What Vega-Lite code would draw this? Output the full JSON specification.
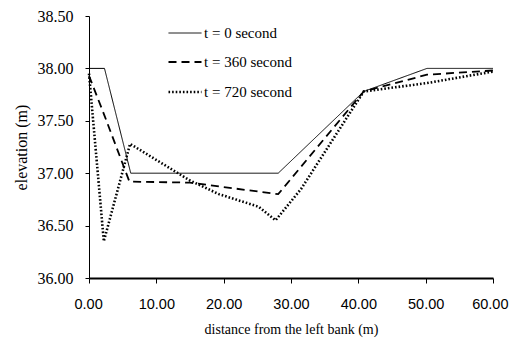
{
  "$schema": "https://vega.github.io/schema/vega-lite/v6.json",
  "width": 404,
  "height": 262,
  "autosize": {"type": "none"},
  "padding": {"left": 89, "top": 16, "right": 17, "bottom": 65},
  "background": "white",
  "config": {"view": {"stroke": null}},
  "data": {"values": [
    {"s": "t = 0 second", "x": 0, "y": 38.0},
    {"s": "t = 0 second", "x": 2.3, "y": 38.0},
    {"s": "t = 0 second", "x": 6.2, "y": 37.0},
    {"s": "t = 0 second", "x": 28.1, "y": 37.0},
    {"s": "t = 0 second", "x": 40.8, "y": 37.78},
    {"s": "t = 0 second", "x": 50.2, "y": 38.0},
    {"s": "t = 0 second", "x": 60, "y": 38.0},
    {"s": "t = 360 second", "x": 0, "y": 37.93},
    {"s": "t = 360 second", "x": 2.3, "y": 37.55},
    {"s": "t = 360 second", "x": 6.0, "y": 36.92},
    {"s": "t = 360 second", "x": 15.0, "y": 36.91},
    {"s": "t = 360 second", "x": 28.1, "y": 36.8},
    {"s": "t = 360 second", "x": 40.8, "y": 37.78},
    {"s": "t = 360 second", "x": 50.2, "y": 37.94},
    {"s": "t = 360 second", "x": 60, "y": 37.98},
    {"s": "t = 720 second", "x": 0, "y": 37.95},
    {"s": "t = 720 second", "x": 2.2, "y": 36.35},
    {"s": "t = 720 second", "x": 6.1, "y": 37.28},
    {"s": "t = 720 second", "x": 15.0, "y": 36.93},
    {"s": "t = 720 second", "x": 19.3, "y": 36.8},
    {"s": "t = 720 second", "x": 25.2, "y": 36.68},
    {"s": "t = 720 second", "x": 27.7, "y": 36.55},
    {"s": "t = 720 second", "x": 31.5, "y": 36.85},
    {"s": "t = 720 second", "x": 40.8, "y": 37.78},
    {"s": "t = 720 second", "x": 50.2, "y": 37.86},
    {"s": "t = 720 second", "x": 60, "y": 37.97}
  ]},
  "mark": {"type": "line", "color": "black", "strokeCap": "butt"},
  "encoding": {
    "x": {
      "field": "x", "type": "quantitative",
      "scale": {"domain": [0, 60], "nice": false},
      "axis": {
        "values": [0, 10, 20, 30, 40, 50, 60], "format": ".2f", "grid": false,
        "labelFlush": true, "labelFlushOffset": 15,
        "domainColor": "black", "domainWidth": 2, "tickColor": "black", "tickSize": 5,
        "labelFont": "Liberation Sans", "labelFontSize": 14.5, "labelColor": "black", "labelPadding": 14,
        "title": "distance from the left bank (m)", "titleFont": "Liberation Serif", "titleFontSize": 14,
        "titleFontWeight": "normal", "titleColor": "black", "titlePadding": 12
      }
    },
    "y": {
      "field": "y", "type": "quantitative",
      "scale": {"domain": [36, 38.5], "nice": false, "zero": false},
      "axis": {
        "values": [36, 36.5, 37, 37.5, 38, 38.5], "format": ".2f", "grid": false, "labelFlush": false,
        "domainColor": "black", "domainWidth": 1, "tickColor": "black", "tickSize": 4,
        "labelFont": "Liberation Serif", "labelFontSize": 16, "labelColor": "black", "labelPadding": 12,
        "title": "elevation (m)", "titleFont": "Liberation Serif", "titleFontSize": 16,
        "titleFontWeight": "normal", "titleColor": "black", "titlePadding": 8
      }
    },
    "strokeDash": {
      "field": "s", "type": "nominal",
      "scale": {"domain": ["t = 0 second", "t = 360 second", "t = 720 second"], "range": [[1, 0], [8, 5], [1.6, 2]]},
      "legend": {
        "orient": "none", "legendX": 78, "legendY": 0, "title": null,
        "symbolType": "stroke", "symbolSize": 1089, "symbolStrokeColor": "black",
        "labelFont": "Liberation Serif", "labelFontSize": 15, "labelColor": "black",
        "labelOffset": 1, "rowPadding": 3.5
      }
    },
    "strokeWidth": {
      "field": "s", "type": "nominal",
      "scale": {"domain": ["t = 0 second", "t = 360 second", "t = 720 second"], "range": [1, 2.6, 1.8]},
      "legend": {
        "orient": "none", "legendX": 78, "legendY": 0, "title": null,
        "symbolType": "stroke", "symbolSize": 1089, "symbolStrokeColor": "black",
        "labelFont": "Liberation Serif", "labelFontSize": 15, "labelColor": "black",
        "labelOffset": 1, "rowPadding": 3.5
      }
    }
  }
}
